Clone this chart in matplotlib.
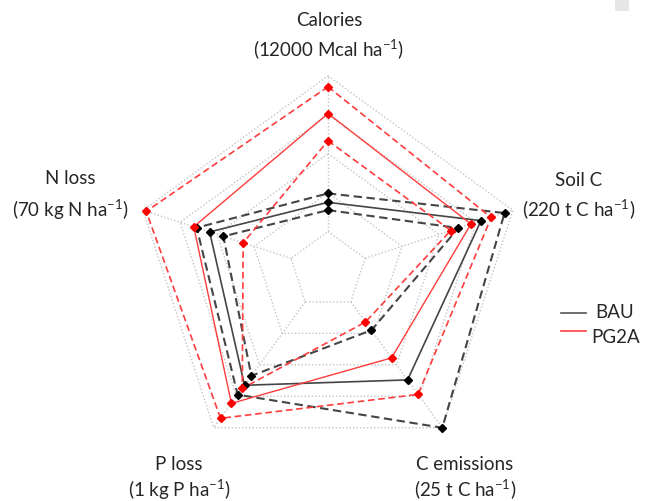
import numpy as np
import matplotlib
matplotlib.use("Agg")
import matplotlib.pyplot as plt
from matplotlib.lines import Line2D
from matplotlib.patches import Rectangle

plt.rcParams['font.family'] = ['Lato', 'DejaVu Sans']
plt.rcParams['mathtext.fontset'] = 'custom'
plt.rcParams['mathtext.rm'] = 'Lato'

# axes of the radar, clockwise from the top, with the value at the outer ring
axis_names = ["Calories", "Soil C", "C emissions", "P loss", "N loss"]
axis_units = ["(12000 Mcal ha$^{\\mathregular{-1}}$)", "(220 t C ha$^{\\mathregular{-1}}$)",
              "(25 t C ha$^{\\mathregular{-1}}$)", "(1 kg P ha$^{\\mathregular{-1}}$)",
              "(70 kg N ha$^{\\mathregular{-1}}$)"]
axis_max = [12000, 220, 25, 1, 70]

# BAU: mean and lower / upper bounds
bau_mean = [4200, 182, 17.4, 0.73, 44.8]
bau_low = [3720, 155, 9.5, 0.67, 39.6]
bau_high = [4750, 210, 25.0, 0.79, 49.7]

# PG2A: mean and lower / upper bounds
pg2a_mean = [9680, 170, 13.9, 0.845, 50.8]
pg2a_low = [8000, 146, 8.2, 0.75, 32.1]
pg2a_high = [11330, 194, 19.7, 0.94, 68.8]

ring_levels = [0.2, 0.4, 0.6, 0.8, 1.0]

W, H = 656, 502
cx, cy, R = 328, 271.4, 194.5   # centre and outer radius in pixels

fig = plt.figure(figsize=(W / 100, H / 100), dpi=100)
ax = fig.add_axes([0, 0, 1, 1])
ax.set_xlim(-cx / R, (W - cx) / R)
ax.set_ylim(-(H - cy) / R, cy / R)
ax.axis('off')

theta = np.arange(5) * 2 * np.pi / 5
sx, sy = np.sin(theta), np.cos(theta)


def to_xy(frac):
    frac = np.asarray(frac, dtype=float)
    x = frac * sx
    y = frac * sy
    return np.append(x, x[0]), np.append(y, y[0])


# grid
grid_col = '#c4c4c4'
for lev in ring_levels:
    gx, gy = to_xy(np.full(5, lev))
    ax.plot(gx, gy, color=grid_col, lw=1.0, ls=(0, (1, 1.5)), zorder=1)
for i in range(5):
    ax.plot([ring_levels[0] * sx[i], sx[i]], [ring_levels[0] * sy[i], sy[i]],
            color=grid_col, lw=1.0, ls=(0, (1, 1.5)), zorder=1)


def draw(vals, color, mcolor, ls, lw):
    frac = np.array(vals) / np.array(axis_max)
    x, y = to_xy(frac)
    ax.plot(x, y, color=color, lw=lw, ls=ls, zorder=2)
    ax.plot(x[:-1], y[:-1], ls='none', marker='D', ms=4, color=mcolor,
            mec=mcolor, zorder=3)


dash = (0, (4, 2.2))
draw(bau_high, '#454545', 'black', dash, 1.5)
draw(bau_low, '#454545', 'black', dash, 1.5)
draw(bau_mean, '#454545', 'black', '-', 1.2)
draw(pg2a_high, '#ff3c3c', '#ff0000', dash, 1.2)
draw(pg2a_low, '#ff3c3c', '#ff0000', dash, 1.2)
draw(pg2a_mean, '#ff3c3c', '#ff0000', '-', 1.0)

# axis labels (pixel positions of the two text lines)
label_pos = [(329, 20, 50), (579, 180, 210), (465, 465, 490),
             (179, 465, 490), (70, 178, 210)]
for name, unit, (px, y1, y2) in zip(axis_names, axis_units, label_pos):
    fig.text(px / W, 1 - y1 / H, name, ha='center', va='center',
             fontsize=13.5, color='#262626')
    fig.text(px / W, 1 - y2 / H, unit, ha='center', va='center',
             fontsize=13.5, color='#262626')

# legend
fig.add_artist(Line2D([561 / W, 586 / W], [1 - 314 / H, 1 - 314 / H],
                      transform=fig.transFigure, color='#555555', lw=1.2))
fig.add_artist(Line2D([561 / W, 586 / W], [1 - 332 / H, 1 - 332 / H],
                      transform=fig.transFigure, color='#ff4040', lw=1.2))
fig.text(615 / W, 1 - 312 / H, "BAU", ha='center', va='center', fontsize=13.5,
         color='#262626')
fig.text(616 / W, 1 - 338 / H, "PG2A", ha='center', va='center', fontsize=13.5,
         color='#262626')

fig.add_artist(Rectangle((615 / W, 1 - 12 / H), 14 / W, 12 / H,
                         transform=fig.transFigure, color='#e6e6e6', lw=0))

fig.savefig("out.png", dpi=100)
